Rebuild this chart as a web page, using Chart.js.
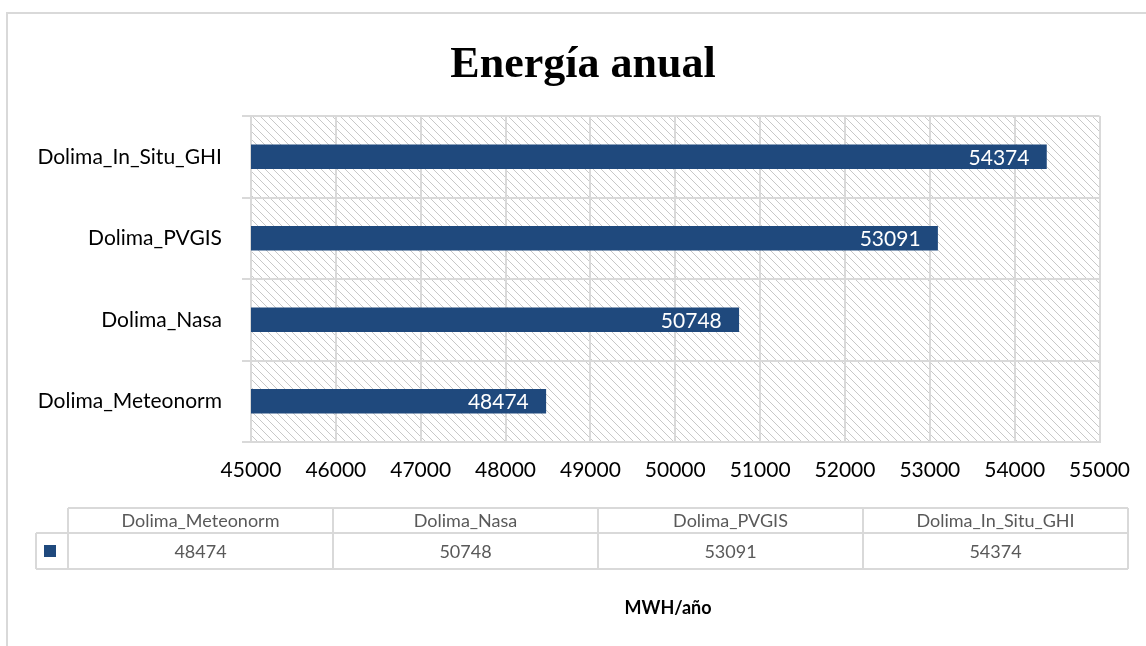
<!DOCTYPE html>
<html lang="es">
<head>
<meta charset="utf-8">
<title>Energía anual</title>
<script src="https://cdn.jsdelivr.net/npm/chart.js@4.4.0/dist/chart.umd.min.js"></script>
<style>
  html, body { margin: 0; padding: 0; background: #fff; }
  #wrap { width: 1146px; height: 646px; }
</style>
</head>
<body>
<div id="wrap"><canvas id="energiaChart" width="1146" height="646"></canvas></div>
<script>
// ========================
// DATOS
// ========================
const categorias = ["Dolima_Meteonorm", "Dolima_Nasa", "Dolima_PVGIS", "Dolima_In_Situ_GHI"];
const energia = [48474, 50748, 53091, 54374];
const ejeMin = 45000;
const ejeMax = 55000;
const ejePaso = 1000;

const titulo = "Energía anual";
const tituloEje = "MWH/año";

const azul = "#1F497D";
const gris = "#d9d9d9";
const fuente = "Lato, 'Liberation Sans', sans-serif";

// ========================
// TRAMA DIAGONAL
// ========================
function crearTrama(ctx) {
  const c = document.createElement("canvas");
  c.width = 8; c.height = 8;
  const p = c.getContext("2d");
  p.fillStyle = "#fff";
  p.fillRect(0, 0, 8, 8);
  p.fillStyle = "#c8c8c8";
  for (let i = 0; i < 8; i++) {
    p.fillRect(i, i, 1, 1);
  }
  return ctx.createPattern(c, "repeat");
}

// fondo + trama del área de trazado + título
const fondoPlugin = {
  id: "fondo",
  beforeDraw(chart) {
    const { ctx, chartArea: a } = chart;
    ctx.save();
    ctx.fillStyle = "#fff";
    ctx.fillRect(0, 0, chart.width, chart.height);
    // borde exterior del gráfico
    ctx.strokeStyle = gris;
    ctx.lineWidth = 2;
    ctx.strokeRect(7, 13, chart.width + 20, chart.height + 20);
    ctx.fillStyle = crearTrama(ctx);
    ctx.fillRect(a.left, a.top, a.right - a.left, a.bottom - a.top);

    ctx.fillStyle = "#000";
    ctx.font = "bold 44px 'Liberation Serif', serif";
    ctx.textAlign = "center";
    ctx.textBaseline = "alphabetic";
    ctx.fillText(titulo, 583, 77);
    ctx.restore();
  }
};

// etiquetas de valor dentro de la barra
const etiquetasPlugin = {
  id: "etiquetas",
  afterDatasetsDraw(chart) {
    const { ctx } = chart;
    const meta = chart.getDatasetMeta(0);
    ctx.save();
    ctx.fillStyle = "#fff";
    ctx.font = "21px " + fuente;
    ctx.textAlign = "right";
    ctx.textBaseline = "middle";
    meta.data.forEach((bar, i) => {
      ctx.fillText(String(energia[i]), bar.x - 17, bar.y + 1);
    });
    ctx.restore();
  }
};

// tabla de datos y título del eje
const tablaPlugin = {
  id: "tabla",
  afterDraw(chart) {
    const { ctx } = chart;
    const x0 = 68, ancho = 265, claveX = 36;
    const y0 = 508, y1 = 533, y2 = 569;
    const xFin = x0 + ancho * categorias.length;
    ctx.save();
    ctx.strokeStyle = gris;
    ctx.lineWidth = 2;
    ctx.beginPath();
    ctx.moveTo(x0, y0); ctx.lineTo(xFin, y0);
    ctx.moveTo(claveX, y1); ctx.lineTo(xFin, y1);
    ctx.moveTo(claveX, y2); ctx.lineTo(xFin, y2);
    ctx.moveTo(claveX, y1); ctx.lineTo(claveX, y2);
    for (let i = 0; i <= categorias.length; i++) {
      ctx.moveTo(x0 + ancho * i, y0);
      ctx.lineTo(x0 + ancho * i, y2);
    }
    ctx.stroke();

    // clave de la serie
    ctx.fillStyle = azul;
    ctx.fillRect(44, 545, 12, 12);

    ctx.fillStyle = "#595959";
    ctx.font = "18px " + fuente;
    ctx.textAlign = "center";
    ctx.textBaseline = "middle";
    categorias.forEach((cat, i) => {
      const cx = x0 + ancho * i + ancho / 2;
      ctx.fillText(cat, cx, (y0 + y1) / 2 + 1);
      ctx.fillText(String(energia[i]), cx, (y1 + y2) / 2 + 1);
    });

    // título del eje
    ctx.fillStyle = "#000";
    ctx.font = "bold 18px " + fuente;
    ctx.fillText(tituloEje, 668, 608);
    ctx.restore();
  }
};

// ========================
// GRÁFICO
// ========================
const ctx = document.getElementById("energiaChart").getContext("2d");
new Chart(ctx, {
  type: "bar",
  data: {
    labels: categorias,
    datasets: [{
      label: "Energía",
      data: energia,
      backgroundColor: azul,
      barThickness: 24
    }]
  },
  options: {
    indexAxis: "y",
    responsive: false,
    animation: false,
    layout: { padding: { left: 0, right: 46, top: 116, bottom: 154 } },
    plugins: {
      legend: { display: false },
      tooltip: { enabled: false },
      title: { display: false }
    },
    scales: {
      x: {
        min: ejeMin,
        max: ejeMax,
        afterFit(scale) { scale.height = 50; },
        ticks: {
          stepSize: ejePaso,
          color: "#000",
          padding: 16,
          font: { family: fuente, size: 21 },
          callback: (v) => String(v)
        },
        grid: { color: gris, lineWidth: 2, drawTicks: false },
        border: { color: gris, width: 2 }
      },
      y: {
        reverse: true,
        afterFit(scale) { scale.width = 251; },
        ticks: {
          color: "#000",
          padding: 20,
          font: { family: fuente, size: 21 }
        },
        grid: { color: gris, lineWidth: 2, offset: true, tickLength: 9 },
        border: { color: gris, width: 2 }
      }
    }
  },
  plugins: [fondoPlugin, etiquetasPlugin, tablaPlugin]
});
</script>
</body>
</html>
